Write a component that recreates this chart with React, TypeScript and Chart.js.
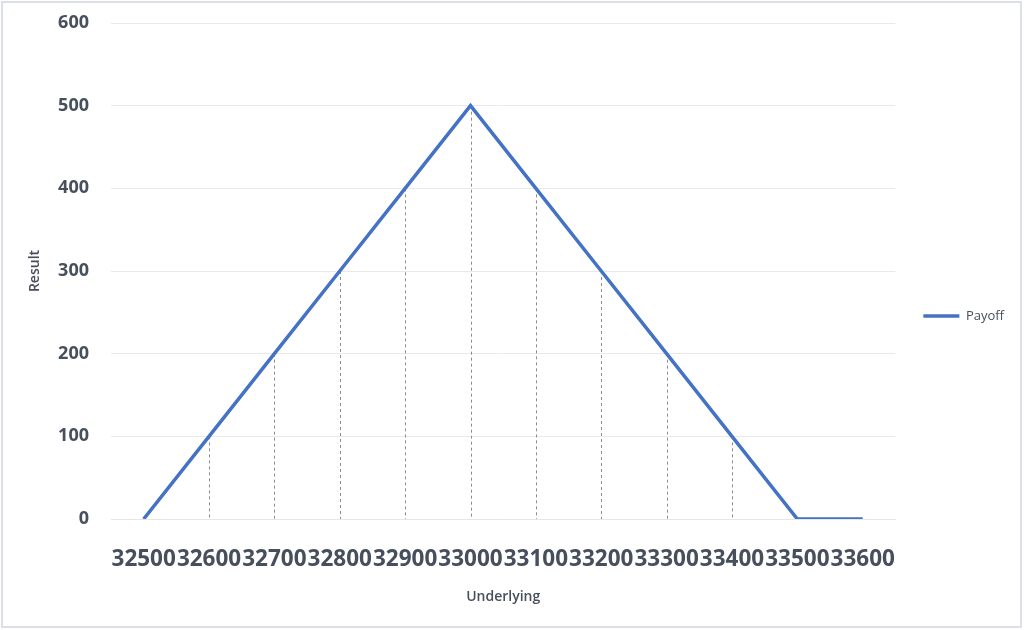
import React, { useEffect, useRef } from "react";
import { Chart, registerables } from "chart.js";

Chart.register(...registerables);

const categories = ["32500", "32600", "32700", "32800", "32900", "33000", "33100", "33200", "33300", "33400", "33500", "33600"];
const payoff = [0, 100, 200, 300, 400, 500, 400, 300, 200, 100, 0, 0];
const seriesName = "Payoff";
const xTitle = "Underlying";
const yTitle = "Result";

const TEXT = "#474f5c";
const FONT = "'Open Sans', sans-serif";

const bgAndBorder = {
  id: "bgAndBorder",
  beforeDraw(chart: any) {
    const ctx = chart.ctx;
    ctx.save();
    ctx.fillStyle = "#ffffff";
    ctx.fillRect(0, 0, chart.width, chart.height);
    ctx.restore();
  },
  afterDraw(chart: any) {
    const ctx = chart.ctx;
    ctx.save();
    ctx.strokeStyle = "#dcdfe6";
    ctx.lineWidth = 2;
    ctx.strokeRect(2, 2, chart.width - 5, chart.height - 5);
    ctx.restore();
  },
};

const dropLines = {
  id: "dropLines",
  beforeDatasetsDraw(chart: any) {
    const ctx = chart.ctx;
    const meta = chart.getDatasetMeta(0);
    const yScale = chart.scales.y;
    const base = yScale.getPixelForValue(0);
    ctx.save();
    ctx.strokeStyle = "#8c8c8c";
    ctx.lineWidth = 1;
    ctx.setLineDash([3, 3]);
    meta.data.forEach((pt: any, i: number) => {
      if (payoff[i] === 0) return;
      const x = Math.round(pt.x) + 0.5;
      ctx.beginPath();
      ctx.moveTo(x, pt.y);
      ctx.lineTo(x, base);
      ctx.stroke();
    });
    ctx.restore();
  },
};

export default function App() {
  const ref = useRef<HTMLCanvasElement | null>(null);
  useEffect(() => {
    if (!ref.current) return;
    const chart = new Chart(ref.current, {
      type: "line",
      data: {
        labels: categories,
        datasets: [
          {
            label: seriesName,
            data: payoff,
            borderColor: "#4472c4",
            backgroundColor: "#4472c4",
            borderWidth: 3.5,
            pointRadius: 0,
            tension: 0,
          },
        ],
      },
      options: {
        responsive: false,
        animation: false,
        layout: { padding: { left: 23, top: 23, right: 10, bottom: 21 } },
        plugins: {
          legend: {
            position: "right",
            labels: {
              usePointStyle: true,
              pointStyle: "line",
              pointStyleWidth: 36,
              padding: 28,
              color: TEXT,
              font: { family: FONT, size: 13 },
            },
          },
          tooltip: { enabled: false },
        },
        scales: {
          x: {
            offset: true,
            grid: { display: false, drawTicks: false },
            border: { display: true, color: "#e6e6e6", width: 1 },
            ticks: {
              autoSkip: false,
              maxRotation: 0,
              minRotation: 0,
              padding: 27,
              color: TEXT,
              font: { family: FONT, size: 22.5, weight: "bold" },
            },
            title: {
              display: true,
              text: xTitle,
              color: TEXT,
              font: { family: FONT, size: 14, weight: "600" },
            },
            afterFit(scale: any) {
              scale.height = 90;
            },
          },
          y: {
            min: 0,
            max: 600,
            grid: { color: "#e9e9e9", drawTicks: false },
            border: { display: false },
            ticks: {
              stepSize: 100,
              padding: 22,
              color: TEXT,
              font: { family: FONT, size: 18, weight: "bold" },
            },
            title: {
              display: true,
              text: yTitle,
              color: TEXT,
              font: { family: FONT, size: 14, weight: "600" },
            },
            afterFit(scale: any) {
              scale.width = 88;
              scale.paddingTop = 0;
              scale.paddingBottom = 0;
            },
          },
        },
      },
      plugins: [bgAndBorder, dropLines],
    } as any);
    return () => chart.destroy();
  }, []);
  return (
    <div style={{ position: "fixed", left: 0, top: 0, width: 1024, height: 630 }}>
      <canvas ref={ref} width={1024} height={630} style={{ display: "block" }} />
    </div>
  );
}
